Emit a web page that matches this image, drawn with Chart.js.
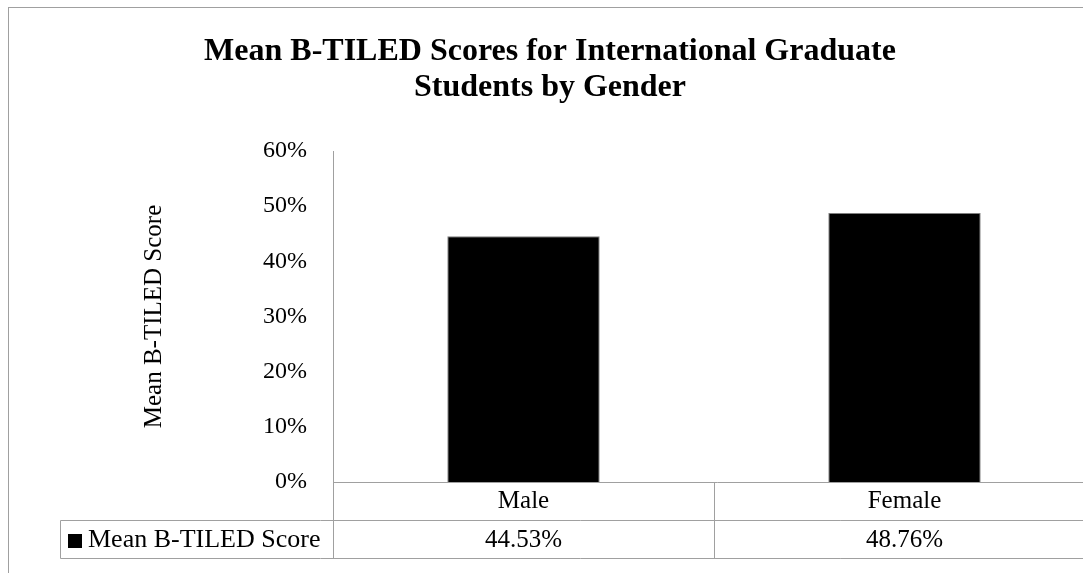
<!DOCTYPE html>
<html>
<head>
<meta charset="utf-8">
<script src="https://cdn.jsdelivr.net/npm/chart.js@4.4.0/dist/chart.umd.min.js"></script>
<style>
  html, body { margin: 0; padding: 0; overflow: hidden; background: #fff; }
  canvas { display: block; }
</style>
</head>
<body>
<canvas id="scoreChart" width="1100" height="573"></canvas>
<script>
const categories = ["Male", "Female"];
const seriesName = "Mean B-TILED Score";
const scores = [44.53, 48.76];
const yMin = 0, yMax = 60, yStep = 10;
const chartTitle = ["Mean B-TILED Scores for International Graduate", "Students by Gender"];
const yTitle = "Mean B-TILED Score";

const serif = "'Liberation Serif', 'Times New Roman', serif";
const lineGray = "#a0a0a0";
Chart.defaults.font.family = serif;
Chart.defaults.color = "#000";

// Excel style data table under the plot, plus the outer chart frame
const dataTable = {
  id: "dataTable",
  beforeDraw(chart) {
    const c = chart.ctx;
    c.save();
    c.strokeStyle = lineGray;
    c.lineWidth = 1;
    c.strokeRect(8.5, 7.5, 1300, 800);
    c.restore();
  },
  afterDraw(chart) {
    const { ctx: c, chartArea: a, scales: { x } } = chart;
    const rowH = 38;
    const top = Math.round(a.bottom) + 0.5;
    const mid = top + rowH, bot = mid + rowH;
    const left = Math.round(a.left) + 0.5;
    const legendLeft = 60.5;
    const right = a.right + 20;

    c.save();
    c.strokeStyle = lineGray;
    c.lineWidth = 1;
    c.beginPath();
    // axes
    c.moveTo(left, Math.round(a.top)); c.lineTo(left, bot);
    c.moveTo(left, top); c.lineTo(right, top);
    // table rows
    c.moveTo(legendLeft, mid); c.lineTo(right, mid);
    c.moveTo(legendLeft, bot); c.lineTo(right, bot);
    c.moveTo(legendLeft, mid); c.lineTo(legendLeft, bot);
    // column dividers
    const colW = (a.right - a.left) / categories.length;
    for (let i = 1; i <= categories.length; i++) {
      const xx = Math.round(a.left + colW * i) + 0.5;
      c.moveTo(xx, top); c.lineTo(xx, bot);
    }
    c.stroke();

    // legend key + series name
    c.fillStyle = "#000";
    c.fillRect(68, Math.round(mid) + 13, 14, 14);
    c.font = "26px " + serif;
    c.textBaseline = "middle";
    c.textAlign = "left";
    c.fillText(seriesName, 88, mid + rowH / 2 + 1);

    // values
    c.font = "25px " + serif;
    c.textAlign = "center";
    scores.forEach((v, i) => {
      c.fillText(v.toFixed(2) + "%", x.getPixelForValue(i), mid + rowH / 2 + 1);
    });
    c.restore();
  }
};

new Chart(document.getElementById("scoreChart").getContext("2d"), {
  type: "bar",
  data: {
    labels: categories,
    datasets: [{
      label: seriesName,
      data: scores,
      backgroundColor: "#000",
      borderColor: "#7f7f7f",
      borderWidth: 1,
      barPercentage: 0.4,
      categoryPercentage: 1
    }]
  },
  options: {
    responsive: false,
    animation: false,
    layout: { padding: { left: 5, right: 5, top: 0, bottom: 0 } },
    plugins: {
      legend: { display: false },
      tooltip: { enabled: false },
      title: {
        display: true,
        text: chartTitle,
        color: "#000",
        font: { family: serif, size: 32, weight: "bold", lineHeight: 1.14 },
        padding: { top: 33, bottom: 45 }
      }
    },
    scales: {
      x: {
        grid: { display: false, drawTicks: false },
        border: { display: false },
        ticks: { font: { size: 25 }, padding: 4, maxRotation: 0 },
        afterFit: s => { s.height = 91; }
      },
      y: {
        min: yMin,
        max: yMax,
        grid: { display: false, drawTicks: false },
        border: { display: false },
        ticks: { stepSize: yStep, font: { size: 24 }, padding: 26, callback: v => v + "%" },
        title: { display: true, text: yTitle, font: { size: 25 }, padding: { top: 134, bottom: 0 } },
        afterFit: s => { s.width = 328; }
      }
    }
  },
  plugins: [dataTable]
});
</script>
</body>
</html>
